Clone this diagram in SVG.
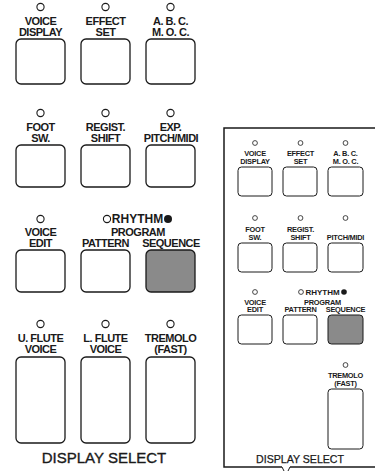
<svg xmlns="http://www.w3.org/2000/svg" width="375" height="472" viewBox="0 0 375 472">
<style>
.bg{fill:#fff}
.btn{fill:#fff;stroke:#1a1a1a;stroke-width:1.3}
.btn.on{fill:#8a8a8a}
.sbtn{fill:#fff;stroke:#1a1a1a;stroke-width:1}
.sbtn.on{fill:#8a8a8a}
.led{fill:#fff;stroke:#1a1a1a;stroke-width:1.1}
.ledon{fill:#1a1a1a}
.sled{fill:#fff;stroke:#1a1a1a;stroke-width:0.8}
.lbl{font-family:"Liberation Sans",Arial,sans-serif;font-weight:bold;font-size:11px;letter-spacing:-0.5px;fill:#1a1a1a;text-anchor:middle}
.slbl{font-family:"Liberation Sans",Arial,sans-serif;font-weight:bold;font-size:7.4px;letter-spacing:-0.25px;fill:#1a1a1a;text-anchor:middle}
.title{font-family:"Liberation Sans",Arial,sans-serif;font-size:15px;fill:#1a1a1a;stroke:#1a1a1a;stroke-width:0.35;text-anchor:middle}
.stitle{font-family:"Liberation Sans",Arial,sans-serif;font-size:10.6px;fill:#1a1a1a;stroke:#1a1a1a;stroke-width:0.25;text-anchor:middle}
.frame{fill:none;stroke:#1a1a1a;stroke-width:1.5}
</style>
<rect class="bg" x="0" y="0" width="375" height="472"/>

<g id="main-panel">
  <g id="voice-display">
    <circle class="led" cx="40.5" cy="7" r="3.6"/>
    <text class="lbl" x="40.5" y="25">VOICE</text>
    <text class="lbl" x="40.5" y="36">DISPLAY</text>
    <rect class="btn" x="16" y="39" width="49" height="45" rx="5"/>
  </g>
  <g id="effect-set">
    <circle class="led" cx="105.5" cy="7" r="3.6"/>
    <text class="lbl" x="105.5" y="25">EFFECT</text>
    <text class="lbl" x="105.5" y="36">SET</text>
    <rect class="btn" x="81" y="39" width="49" height="45" rx="5"/>
  </g>
  <g id="abc-moc">
    <circle class="led" cx="170.5" cy="7" r="3.6"/>
    <text class="lbl" x="170.5" y="25">A. B. C.</text>
    <text class="lbl" x="170.5" y="36">M. O. C.</text>
    <rect class="btn" x="146" y="39" width="49" height="45" rx="5"/>
  </g>

  <g id="foot-sw">
    <circle class="led" cx="40.5" cy="113" r="3.6"/>
    <text class="lbl" x="40.5" y="131">FOOT</text>
    <text class="lbl" x="40.5" y="142">SW.</text>
    <rect class="btn" x="16" y="145" width="49" height="42" rx="5"/>
  </g>
  <g id="regist-shift">
    <circle class="led" cx="105.5" cy="113" r="3.6"/>
    <text class="lbl" x="105.5" y="131">REGIST.</text>
    <text class="lbl" x="105.5" y="142">SHIFT</text>
    <rect class="btn" x="81" y="145" width="49" height="42" rx="5"/>
  </g>
  <g id="exp-pitch-midi">
    <circle class="led" cx="170.5" cy="113" r="3.6"/>
    <text class="lbl" x="170.5" y="131">EXP.</text>
    <text class="lbl" x="171" y="142">PITCH/MIDI</text>
    <rect class="btn" x="146" y="145" width="49" height="42" rx="5"/>
  </g>

  <g id="voice-edit">
    <circle class="led" cx="40.5" cy="219" r="3.6"/>
    <text class="lbl" x="40.5" y="236">VOICE</text>
    <text class="lbl" x="40.5" y="247">EDIT</text>
    <rect class="btn" x="16" y="250" width="49" height="42" rx="5"/>
  </g>
  <g id="rhythm-program">
    <circle class="led" cx="107" cy="219" r="3.6"/>
    <text class="lbl" x="137.5" y="223.3" style="letter-spacing:0;font-size:12px">RHYTHM</text>
    <circle class="ledon" cx="168" cy="219" r="4"/>
    <text class="lbl" x="138" y="236">PROGRAM</text>
  </g>
  <g id="pattern">
    <text class="lbl" x="105.5" y="247">PATTERN</text>
    <rect class="btn" x="81" y="250" width="49" height="42" rx="5"/>
  </g>
  <g id="sequence">
    <text class="lbl" x="171" y="247">SEQUENCE</text>
    <rect class="btn on" x="146" y="250" width="49" height="42" rx="5"/>
  </g>

  <g id="u-flute-voice">
    <circle class="led" cx="40.5" cy="324" r="3.6"/>
    <text class="lbl" x="40.5" y="342">U. FLUTE</text>
    <text class="lbl" x="40.5" y="353">VOICE</text>
    <rect class="btn" x="16" y="357" width="49" height="86" rx="5"/>
  </g>
  <g id="l-flute-voice">
    <circle class="led" cx="105.5" cy="324" r="3.6"/>
    <text class="lbl" x="105.5" y="342">L. FLUTE</text>
    <text class="lbl" x="105.5" y="353">VOICE</text>
    <rect class="btn" x="81" y="357" width="49" height="86" rx="5"/>
  </g>
  <g id="tremolo-fast">
    <circle class="led" cx="170.5" cy="324" r="3.6"/>
    <text class="lbl" x="170.5" y="342">TREMOLO</text>
    <text class="lbl" x="170.5" y="353">(FAST)</text>
    <rect class="btn" x="146" y="357" width="49" height="86" rx="5"/>
  </g>

  <text id="display-select" class="title" x="104" y="463">DISPLAY SELECT</text>
</g>

<g id="inset-panel">
  <g id="inset-frame">
    <path class="frame" d="M375,128 H224 V467 H282 M290,467 H375"/>
    <path fill="none" stroke="#1a1a1a" stroke-width="1" d="M282,467 L284,471 M290,467 L288,471"/>
  </g>

  <g id="s-voice-display">
    <circle class="sled" cx="255" cy="143" r="2.4"/>
    <text class="slbl" x="255" y="156">VOICE</text>
    <text class="slbl" x="255" y="163.5">DISPLAY</text>
    <rect class="sbtn" x="238" y="167" width="34" height="29" rx="3.5"/>
  </g>
  <g id="s-effect-set">
    <circle class="sled" cx="300.5" cy="143" r="2.4"/>
    <text class="slbl" x="300.5" y="156">EFFECT</text>
    <text class="slbl" x="300.5" y="163.5">SET</text>
    <rect class="sbtn" x="283" y="167" width="34" height="29" rx="3.5"/>
  </g>
  <g id="s-abc-moc">
    <circle class="sled" cx="345.5" cy="143" r="2.4"/>
    <text class="slbl" x="345.5" y="156">A. B. C.</text>
    <text class="slbl" x="345.5" y="163.5">M. O. C.</text>
    <rect class="sbtn" x="328" y="167" width="35" height="29" rx="3.5"/>
  </g>

  <g id="s-foot-sw">
    <circle class="sled" cx="255" cy="218" r="2.4"/>
    <text class="slbl" x="255" y="232">FOOT</text>
    <text class="slbl" x="255" y="239.5">SW.</text>
    <rect class="sbtn" x="238" y="243" width="34" height="29" rx="3.5"/>
  </g>
  <g id="s-regist-shift">
    <circle class="sled" cx="300.5" cy="218" r="2.4"/>
    <text class="slbl" x="300.5" y="232">REGIST.</text>
    <text class="slbl" x="300.5" y="239.5">SHIFT</text>
    <rect class="sbtn" x="283" y="243" width="34" height="29" rx="3.5"/>
  </g>
  <g id="s-pitch-midi">
    <circle class="sled" cx="345.5" cy="218" r="2.4"/>
    <text class="slbl" x="345.5" y="239.5">PITCH/MIDI</text>
    <rect class="sbtn" x="328" y="243" width="35" height="29" rx="3.5"/>
  </g>

  <g id="s-voice-edit">
    <circle class="sled" cx="255" cy="292" r="2.4"/>
    <text class="slbl" x="255" y="304.5">VOICE</text>
    <text class="slbl" x="255" y="312">EDIT</text>
    <rect class="sbtn" x="238" y="315" width="34" height="29" rx="3.5"/>
  </g>
  <g id="s-rhythm-program">
    <circle class="sled" cx="301" cy="292" r="2.4"/>
    <text class="slbl" x="322.5" y="294.8" style="letter-spacing:0;font-size:8px">RHYTHM</text>
    <circle class="ledon" cx="344" cy="292" r="2.8"/>
    <text class="slbl" x="322.5" y="304.5">PROGRAM</text>
  </g>
  <g id="s-pattern">
    <text class="slbl" x="300.5" y="312">PATTERN</text>
    <rect class="sbtn" x="283" y="315" width="34" height="29" rx="3.5"/>
  </g>
  <g id="s-sequence">
    <text class="slbl" x="345.5" y="312">SEQUENCE</text>
    <rect class="sbtn on" x="328" y="315" width="35" height="29" rx="3.5"/>
  </g>

  <g id="s-tremolo-fast">
    <circle class="sled" cx="345.5" cy="365" r="2.4"/>
    <text class="slbl" x="345.5" y="377.5">TREMOLO</text>
    <text class="slbl" x="345.5" y="385.5">(FAST)</text>
    <rect class="sbtn" x="328" y="389" width="35" height="60" rx="3.5"/>
  </g>

  <text id="s-display-select" class="stitle" x="300" y="463">DISPLAY SELECT</text>
</g>
</svg>
